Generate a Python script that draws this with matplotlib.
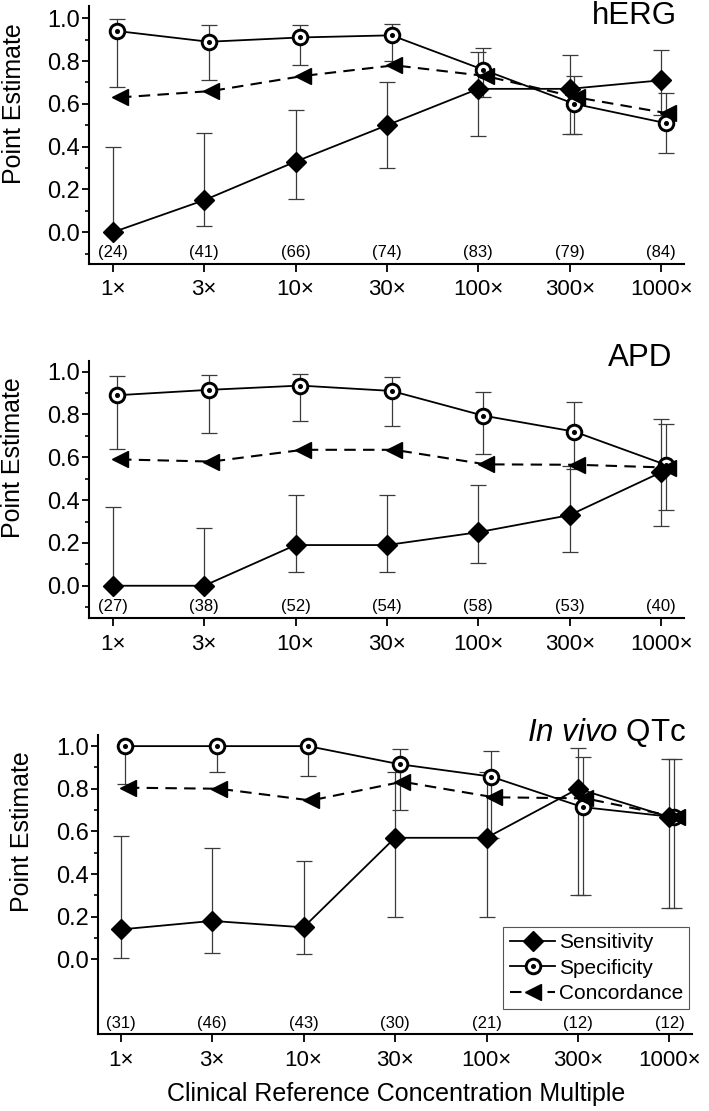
import matplotlib.pyplot as plt
import matplotlib.transforms as mtransforms
from matplotlib.lines import Line2D
from matplotlib.legend_handler import HandlerTuple
from matplotlib.ticker import FixedLocator

plt.rcParams['font.family'] = ['Liberation Sans', 'DejaVu Sans']
plt.rcParams['mathtext.fontset'] = 'custom'
plt.rcParams['mathtext.rm'] = 'Liberation Sans'
plt.rcParams['mathtext.it'] = 'Liberation Sans:italic'

# Multiplos de concentracion (eje x)
categorias = ['1×', '3×', '10×', '30×', '100×', '300×', '1000×']

# hERG
herg_n = [24, 41, 66, 74, 83, 79, 84]
herg_sens = [0.0, 0.15, 0.33, 0.50, 0.67, 0.67, 0.71]
herg_sens_lo = [0.0, 0.03, 0.155, 0.30, 0.45, 0.46, 0.55]
herg_sens_hi = [0.40, 0.465, 0.57, 0.70, 0.84, 0.83, 0.85]
herg_spec = [0.94, 0.89, 0.91, 0.92, 0.76, 0.60, 0.51]
herg_spec_lo = [0.68, 0.71, 0.78, 0.80, 0.63, 0.46, 0.37]
herg_spec_hi = [0.995, 0.97, 0.97, 0.975, 0.86, 0.73, 0.65]
herg_conc = [0.63, 0.66, 0.73, 0.78, 0.73, 0.63, 0.555]

# APD
apd_n = [27, 38, 52, 54, 58, 53, 40]
apd_sens = [0.0, 0.0, 0.19, 0.19, 0.25, 0.33, 0.53]
apd_sens_lo = [0.0, 0.0, 0.063, 0.063, 0.107, 0.156, 0.28]
apd_sens_hi = [0.37, 0.27, 0.425, 0.425, 0.47, 0.56, 0.78]
apd_spec = [0.89, 0.915, 0.935, 0.91, 0.795, 0.72, 0.565]
apd_spec_lo = [0.64, 0.715, 0.77, 0.745, 0.615, 0.545, 0.355]
apd_spec_hi = [0.98, 0.985, 0.99, 0.977, 0.905, 0.858, 0.755]
apd_conc = [0.59, 0.58, 0.635, 0.635, 0.567, 0.565, 0.552]

# In vivo QTc
qt_n = [31, 46, 43, 30, 21, 12, 12]
qt_sens = [0.14, 0.18, 0.15, 0.57, 0.57, 0.80, 0.667]
qt_sens_lo = [0.005, 0.03, 0.023, 0.20, 0.20, 0.30, 0.24]
qt_sens_hi = [0.58, 0.52, 0.46, 0.88, 0.88, 0.99, 0.94]
qt_spec = [1.0, 1.0, 1.0, 0.915, 0.857, 0.714, 0.667]
qt_spec_lo = [0.82, 0.877, 0.86, 0.70, 0.57, 0.30, 0.24]
qt_spec_hi = [1.0, 1.0, 1.0, 0.985, 0.976, 0.95, 0.94]
qt_conc = [0.805, 0.80, 0.745, 0.833, 0.76, 0.755, 0.667]

x = list(range(len(categorias)))
off_spec = 0.05
off_conc = 0.08
gris = '#3a3a3a'
discontinua = (0, (5.5, 3.5))

fig = plt.figure(figsize=(7.09, 11.11), dpi=100)


def panel(rect, ylim, xlim, n, sens, sens_lo, sens_hi, spec, spec_lo, spec_hi,
          conc, n_y, menores, titulo, titulo_pos, ylab_x):
    ax = fig.add_axes(rect)
    xp = [i + off_spec for i in x]
    xc = [i + off_conc for i in x]

    # barras de error
    err_s = [[s - l for s, l in zip(sens, sens_lo)], [h - s for s, h in zip(sens, sens_hi)]]
    err_p = [[s - l for s, l in zip(spec, spec_lo)], [h - s for s, h in zip(spec, spec_hi)]]
    ax.errorbar(x, sens, yerr=err_s, fmt='none', ecolor=gris, elinewidth=0.9,
                capsize=5.5, capthick=0.9, zorder=1)
    ax.errorbar(xp, spec, yerr=err_p, fmt='none', ecolor=gris, elinewidth=0.9,
                capsize=5.5, capthick=0.9, zorder=1)

    ax.plot(xc, conc, color='k', lw=1.5, ls=discontinua, marker='<', ms=12, zorder=3)
    ax.plot(xp, spec, color='k', lw=1.3, marker='o', ms=10.5, mfc='white', mec='k', mew=2.1, zorder=2.5)
    ax.plot(xp, spec, ls='none', marker='o', ms=2.6, color='k', zorder=2.6)
    ax.plot(x, sens, color='k', lw=1.3, marker='D', ms=10, zorder=4)

    for i in x:
        ax.text(i, n_y, '(%d)' % n[i], ha='center', va='center', fontsize=12)

    ax.set_xlim(xlim)
    ax.set_ylim(ylim)
    ax.set_xticks(x, categorias)
    ax.set_yticks([0.0, 0.2, 0.4, 0.6, 0.8, 1.0])
    ax.set_yticklabels(['0.0', '0.2', '0.4', '0.6', '0.8', '1.0'])
    ax.yaxis.set_minor_locator(FixedLocator(menores))
    ax.tick_params(axis='x', length=6, width=1.3, pad=5, labelsize=16)
    ax.tick_params(axis='y', which='major', length=5, width=1.3, pad=1.5, labelsize=17)
    ax.tick_params(axis='y', which='minor', length=3.2, width=1.2)
    ax.spines['top'].set_visible(False)
    ax.spines['right'].set_visible(False)
    ax.spines['left'].set_linewidth(1.5)
    ax.spines['bottom'].set_linewidth(1.5)

    ax.text(titulo_pos[0], titulo_pos[1], titulo, transform=ax.transAxes,
            ha='right', va='center', fontsize=22.5)
    tr = mtransforms.blended_transform_factory(fig.transFigure, ax.transData)
    ax.text(ylab_x, 0.6, 'Point Estimate', transform=tr, rotation=90,
            ha='center', va='center', fontsize=18)
    return ax


panel([0.1255, 0.7624, 0.8392, 0.2322], (-0.148, 1.057), (-0.26, 6.25),
      herg_n, herg_sens, herg_sens_lo, herg_sens_hi,
      herg_spec, herg_spec_lo, herg_spec_hi, herg_conc,
      -0.095, [-0.1, 0.1, 0.3, 0.5, 0.7, 0.9], 'hERG', (0.988, 0.961), 14 / 709)

panel([0.1255, 0.4435, 0.8392, 0.2316], (-0.152, 1.05), (-0.26, 6.25),
      apd_n, apd_sens, apd_sens_lo, apd_sens_hi,
      apd_spec, apd_spec_lo, apd_spec_hi, apd_conc,
      -0.098, [-0.1, 0.1, 0.3, 0.5, 0.7, 0.9], 'APD', (0.98, 1.01), 13 / 709)

ax3 = panel([0.1378, 0.0690, 0.8387, 0.2694], (-0.352, 1.052), (-0.25, 6.25),
            qt_n, qt_sens, qt_sens_lo, qt_sens_hi,
            qt_spec, qt_spec_lo, qt_spec_hi, qt_conc,
            -0.30, [0.1, 0.3, 0.5, 0.7, 0.9], r'$\mathit{In\ vivo}$ QTc', (0.99, 1.007), 21.7 / 709)

# leyenda
h_sens = Line2D([], [], color='k', lw=1.3, marker='D', ms=10)
h_spec = Line2D([], [], color='k', lw=1.3, marker='o', ms=10.5, mfc='white', mec='k', mew=2.1)
h_dot = Line2D([], [], ls='none', marker='o', ms=2.6, color='k')
h_conc = Line2D([], [], color='k', lw=1.5, ls=discontinua, marker='<', ms=12)
leg = ax3.legend([h_sens, (h_spec, h_dot), h_conc], ['Sensitivity', 'Specificity', 'Concordance'],
                 handler_map={tuple: HandlerTuple(ndivide=1, pad=0)},
                 loc='lower right', bbox_to_anchor=(0.9945, 0.0845), borderaxespad=0,
                 fontsize=15, fancybox=False, edgecolor='#555555', framealpha=1,
                 borderpad=0.3, labelspacing=0.3, handlelength=2.2, handletextpad=0.15)
leg.get_frame().set_linewidth(0.8)

fig.text(396 / 709, 1 - 1094 / 1111, 'Clinical Reference Concentration Multiple',
         ha='center', va='center', fontsize=18)

fig.savefig('out.png', dpi=100)
